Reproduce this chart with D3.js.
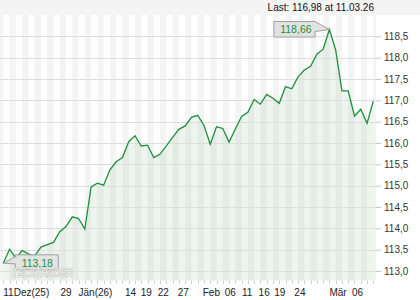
<!DOCTYPE html>
<html>
<head>
<meta charset="utf-8">
<script src="https://cdn.jsdelivr.net/npm/d3@7"></script>
<style>
  html, body { margin: 0; padding: 0; background: #ffffff; }
  svg { display: block; font-family: "Liberation Sans", Arial, sans-serif; }
</style>
</head>
<body>
<svg id="chart" width="420" height="300"></svg>
<script>
// ---- data ----
const prices = [
  113.18, 113.51, 113.30, 113.48, 113.40, 113.35, 113.56, 113.62, 113.67, 113.92,
  114.04, 114.27, 114.23, 113.98, 114.97, 115.06, 115.01, 115.37, 115.56, 115.66,
  116.03, 116.17, 115.93, 115.95, 115.66, 115.74, 115.93, 116.13, 116.32, 116.40,
  116.60, 116.65, 116.41, 115.97, 116.38, 116.34, 116.02, 116.33, 116.62, 116.72,
  117.02, 116.91, 117.14, 117.05, 116.93, 117.32, 117.27, 117.55, 117.71, 117.80,
  118.08, 118.20, 118.66, 118.18, 117.22, 117.22, 116.63, 116.79, 116.46, 116.98
];
const xTickIndex  = [0, 10, 12, 20.3, 22.8, 25.5, 28.7, 31.8, 36.2, 38.9, 41.6, 44.1, 47.3, 52, 56.5];
const xTickLabels = ["11Dez(25)", "29", "Jän(26)", "14", "19", "22", "27", "Feb", "06", "11", "16", "19", "24", "Mär", "06"];
const xTickAnchor = ["start", "middle", "start", "middle", "middle", "middle", "middle", "start", "middle", "middle", "middle", "middle", "middle", "start", "middle"];
const yTickValues = [113.0, 113.5, 114.0, 114.5, 115.0, 115.5, 116.0, 116.5, 117.0, 117.5, 118.0, 118.5];
const lastText = "Last: 116,98 at 11.03.26";

// ---- layout ----
const W = 420, H = 300;
const plot = { left: 0, right: 376, top: 15, bottom: 280.5 };
const fmt = v => d3.format(".1f")(v).replace(".", ",");
const fmt2 = v => d3.format(".2f")(v).replace(".", ",");

const svg = d3.select("#chart");

const x = d3.scaleLinear().domain([0, prices.length - 1]).range([3.3, 373.3]);
const y = d3.scaleLinear().domain([112.777, 119.0]).range([plot.bottom, plot.top]);

// top bar
svg.append("rect").attr("x", 0).attr("y", 0).attr("width", W).attr("height", plot.top)
  .attr("fill", "#f4f4f4");

// plot background & stripes
svg.append("rect").attr("x", plot.left).attr("y", plot.top)
  .attr("width", plot.right - plot.left).attr("height", plot.bottom - plot.top)
  .attr("fill", "#ffffff");

const stripeIdx = d3.range(-1, prices.length).filter(i => Math.abs(i) % 2 === 1);
svg.append("g").selectAll("rect").data(stripeIdx).join("rect")
  .attr("x", i => Math.max(plot.left, x(i)))
  .attr("y", plot.top)
  .attr("width", i => Math.min(plot.right, x(i + 1)) - Math.max(plot.left, x(i)))
  .attr("height", plot.bottom - plot.top)
  .attr("fill", "#f4f4f4");

// area
const area = d3.area().x((d, i) => x(i)).y0(plot.bottom).y1(d => y(d));
svg.append("path").datum(prices).attr("d", area)
  .attr("fill", "#8fbf8f").attr("fill-opacity", 0.15);

// grid lines
svg.append("g").selectAll("line").data(yTickValues).join("line")
  .attr("x1", plot.left).attr("x2", plot.right)
  .attr("y1", d => Math.round(y(d)) + 0.5).attr("y2", d => Math.round(y(d)) + 0.5)
  .attr("stroke", "#dedede").attr("stroke-width", 1);

// right axis
const yAxis = d3.axisRight(y).tickValues(yTickValues).tickSize(5).tickPadding(3).tickFormat(fmt);
const ya = svg.append("g").attr("transform", `translate(${plot.right},0)`).call(yAxis);
ya.select(".domain").remove();
ya.selectAll(".tick line").attr("stroke", "#c8c8c8");
ya.selectAll(".tick text").attr("fill", "#333").attr("font-size", "10px")
  .attr("font-family", "Liberation Sans, Arial, sans-serif");

// bottom minor ticks
svg.append("g").selectAll("line").data(d3.range(prices.length)).join("line")
  .attr("x1", i => Math.round(x(i)) + 0.5).attr("x2", i => Math.round(x(i)) + 0.5)
  .attr("y1", plot.bottom).attr("y2", plot.bottom + 3.5)
  .attr("stroke", "#d0d0d0");

// bottom labels
svg.append("g").selectAll("text").data(xTickIndex).join("text")
  .attr("x", i => x(i))
  .attr("y", 296)
  .attr("text-anchor", (d, k) => xTickAnchor[k])
  .attr("font-size", "10px").attr("fill", "#222")
  .text((d, k) => xTickLabels[k]);

// line
const line = d3.line().x((d, i) => x(i)).y(d => y(d));
svg.append("path").datum(prices).attr("d", line)
  .attr("fill", "none").attr("stroke", "#1f8f3f").attr("stroke-width", 1.3)
  .attr("stroke-linejoin", "miter");

// last text
svg.append("text").attr("x", 374).attr("y", 11).attr("text-anchor", "end")
  .attr("font-size", "10px").attr("fill", "#111").text(lastText);

// max label
const iMax = d3.maxIndex(prices), iMin = d3.minIndex(prices);
const px = x(iMax), py = y(prices[iMax]);
const boxW = 41, boxH = 15.5;
const mx = px - 14.5 - boxW, my = py - 8;
const gMax = svg.append("g");
gMax.append("path")
  .attr("d", `M${mx},${my} H${mx + boxW} L${px},${py} L${mx + boxW},${my + 10} V${my + boxH} H${mx} Z`)
  .attr("fill", "#e2e2e2").attr("stroke", "#a0a0a0").attr("stroke-width", 1);
gMax.append("text").attr("x", mx + boxW / 2 + 1.5).attr("y", my + 11.5)
  .attr("text-anchor", "middle").attr("font-size", "10.5px").attr("fill", "#1f8f3f")
  .text(fmt2(prices[iMax]));

// min label
const qx = x(iMin), qy = y(prices[iMin]);
const nx = qx + 12, ny = qy - 8.5;
const gMin = svg.append("g");
gMin.append("path")
  .attr("d", `M${nx},${ny} H${nx + 43} V${ny + 15} H${nx} V${ny + 9} L${qx},${qy} L${nx},${ny + 2} Z`)
  .attr("fill", "#e2e2e2").attr("fill-opacity", 0.9).attr("stroke", "#a0a0a0").attr("stroke-width", 1);
gMin.append("text").attr("x", nx + 22).attr("y", ny + 12.5)
  .attr("text-anchor", "middle").attr("font-size", "10.5px").attr("fill", "#1f8f3f")
  .text(fmt2(prices[iMin]));

// watermark
svg.append("text").attr("x", 12).attr("y", 276.5)
  .attr("font-size", "12px").attr("font-weight", "bold").attr("font-style", "italic")
  .attr("textLength", 61).attr("lengthAdjust", "spacingAndGlyphs")
  .attr("fill", "#ffffff").attr("fill-opacity", 0.85)
  .attr("stroke", "#c4c4c4").attr("stroke-width", 0.7)
  .text("TELETRADER");
</script>
</body>
</html>
